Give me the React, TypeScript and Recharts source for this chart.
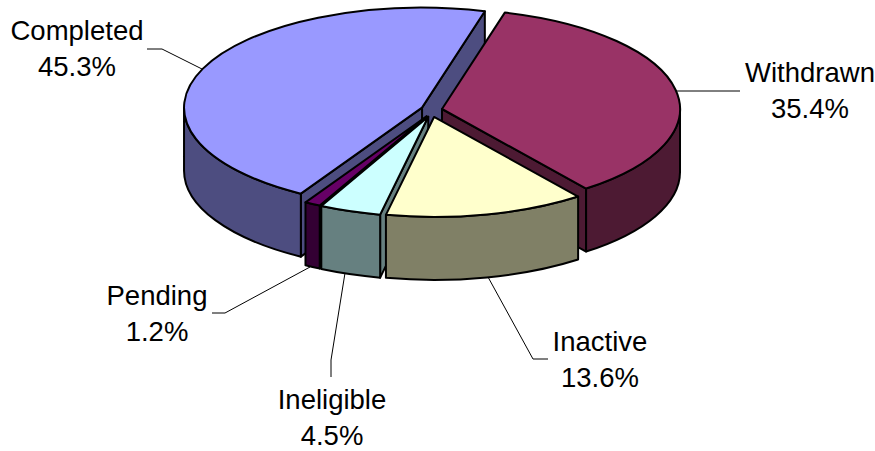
import React from "react";
import { PieChart, Pie } from "recharts";

// Study outcome shares, in percent
const outcomes = ["Completed", "Pending", "Ineligible", "Inactive", "Withdrawn"];
const shares = [45.3, 1.2, 4.5, 13.6, 35.4];
const topColors = ["#9999FF", "#660066", "#CCFFFF", "#FFFFCC", "#993366"];
const sideColors = ["#4D4D80", "#330033", "#668080", "#808066", "#4D1A33"];

const rows = outcomes.map((name, i) => ({ name, value: shares[i] }));

// Slices at the back are painted first so the front ones sit over their cut faces
const backSlices = ["Completed", "Withdrawn"];

const WIDTH = 875;
const HEIGHT = 451;
const CX = 431.7;
const CY = 110.3;
const RADIUS = 238;
const SQUASH = 0.42; // vertical scale of the tilted disc
const DEPTH = 63; // thickness of the disc
const EXPLODE = 10.5; // how far each slice is pulled out
const EXPLODE_SQUASH = 0.65;
const START = 74.7; // the pie runs counter-clockwise from here

const FONT = "'Liberation Sans', Arial, sans-serif";
const FONT_SIZE = 27.5;

type LabelSpot = { x: number; y1: number; y2: number; leader: [number, number][] };
const labelSpots: Record<string, LabelSpot> = {
  Completed: { x: 77, y1: 40, y2: 76, leader: [[147, 49], [162, 49], [202, 69]] },
  Withdrawn: { x: 810, y1: 82, y2: 118, leader: [[676, 91], [740, 91]] },
  Inactive: { x: 600, y1: 351, y2: 387, leader: [[548, 359], [533, 359], [488, 277]] },
  Ineligible: { x: 332, y1: 409, y2: 445, leader: [[331, 377], [331, 360], [345, 273]] },
  Pending: { x: 157, y1: 305, y2: 341, leader: [[212, 313], [225, 313], [310, 267]] },
};

const rad = (deg: number) => (deg * Math.PI) / 180;

// Perspective of the tilted disc: edges at the near left lean slightly towards the front
const lean = (deg: number) => deg + 1.7 * Math.exp(-(((deg - 235) / 12) ** 2));

function Wedge(props: any) {
  const a1 = lean(Math.min(props.startAngle, props.endAngle));
  const a2 = lean(Math.max(props.startAngle, props.endAngle));
  const mid = rad((a1 + a2) / 2);
  const r = props.outerRadius;
  const ry = r * SQUASH;
  const ox = props.cx + EXPLODE * Math.cos(mid);
  const oy = props.cy - EXPLODE * EXPLODE_SQUASH * Math.sin(mid);
  const rim = (deg: number): [number, number] => [
    ox + r * Math.cos(rad(deg)),
    oy - ry * Math.sin(rad(deg)),
  ];
  const index = outcomes.indexOf(props.name);
  const top = topColors[index];
  const side = sideColors[index];

  const cutFace = (deg: number) => {
    const [x, y] = rim(deg);
    return `M${ox},${oy} L${x},${y} L${x},${y + DEPTH} L${ox},${oy + DEPTH} Z`;
  };
  // A cut face is drawn only when it turns towards the viewer
  const showFirstCut = Math.cos(rad(a1)) > 0;
  const showLastCut = Math.cos(rad(a2)) < 0;

  // The curved outer face only shows on the near half of the disc
  const f1 = Math.max(a1, 180);
  const f2 = Math.min(a2, 360);
  let outer = "";
  if (f2 > f1) {
    const [x1, y1] = rim(f1);
    const [x2, y2] = rim(f2);
    outer =
      `M${x1},${y1} A${r},${ry} 0 0 0 ${x2},${y2} L${x2},${y2 + DEPTH} ` +
      `A${r},${ry} 0 0 1 ${x1},${y1 + DEPTH} Z`;
  }

  const [tx1, ty1] = rim(a1);
  const [tx2, ty2] = rim(a2);
  const large = a2 - a1 > 180 ? 1 : 0;
  const face = `M${ox},${oy} L${tx1},${ty1} A${r},${ry} 0 ${large} 0 ${tx2},${ty2} Z`;

  const edge = { stroke: "#000", strokeWidth: 2, strokeLinejoin: "round" as const };
  return (
    <g>
      {showFirstCut && <path d={cutFace(a1)} fill={side} {...edge} />}
      {showLastCut && <path d={cutFace(a2)} fill={side} {...edge} />}
      {outer && <path d={outer} fill={side} {...edge} />}
      <path d={face} fill={top} {...edge} />
    </g>
  );
}

function OutcomeLabel(props: any) {
  const spot = labelSpots[props.name];
  const textProps = {
    x: spot.x,
    textAnchor: "middle" as const,
    fontFamily: FONT,
    fontSize: FONT_SIZE,
    fill: "#000",
  };
  return (
    <g>
      <polyline
        points={spot.leader.map((p) => p.join(",")).join(" ")}
        fill="none"
        stroke="#000"
        strokeWidth={1}
      />
      <text {...textProps} y={spot.y1}>
        {props.name}
      </text>
      <text {...textProps} y={spot.y2}>
        {`${props.value.toFixed(1)}%`}
      </text>
    </g>
  );
}

export default function App() {
  const pieProps = {
    data: rows,
    dataKey: "value",
    nameKey: "name",
    cx: CX,
    cy: CY,
    innerRadius: 0,
    outerRadius: RADIUS,
    startAngle: START,
    endAngle: START + 360,
    stroke: "none",
    isAnimationActive: false,
  };
  return (
    <div style={{ position: "absolute", left: 0, top: 0, width: WIDTH, height: HEIGHT, background: "#fff" }}>
      <PieChart width={WIDTH} height={HEIGHT} margin={{ top: 0, right: 0, bottom: 0, left: 0 }}>
        <Pie
          {...pieProps}
          shape={(p: any) => (backSlices.includes(p.name) ? <Wedge {...p} /> : <g />)}
        />
        <Pie
          {...pieProps}
          shape={(p: any) => (backSlices.includes(p.name) ? <g /> : <Wedge {...p} />)}
          label={(p: any) => <OutcomeLabel {...p} />}
          labelLine={false}
        />
      </PieChart>
    </div>
  );
}
